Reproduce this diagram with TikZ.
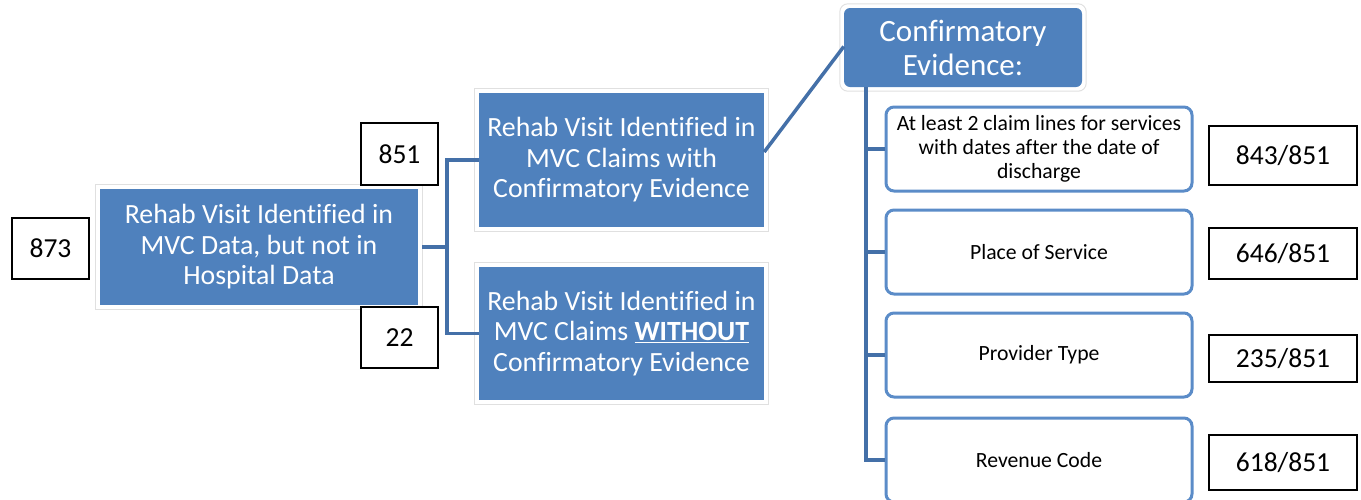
\documentclass[tikz,border=0pt]{standalone}
\usepackage{fontspec}
\setmainfont{Carlito}[Ligatures=NoCommon]
\definecolor{obl}{HTML}{4F81BD}
\definecolor{conn}{HTML}{4470A8}
\definecolor{ebd}{HTML}{5B8CC8}
\tikzset{
  bluebox/.style={draw=none, fill=obl, text=white, align=center, inner sep=0pt,
    font=\fontsize{27.8}{30.5}\selectfont},
  confbox/.style={fill=obl, text=white, align=center, inner sep=0pt, rounded corners=6pt,
    font=\fontsize{31}{34}\selectfont},
  evbox/.style={draw=ebd, line width=3pt, fill=white, rounded corners=8pt, align=center, inner sep=0pt,
    minimum width=306pt, minimum height=84pt, font=\fontsize{21.7}{24}\selectfont},
  numbox/.style={draw=black, line width=2pt, fill=white, inner sep=0pt,
    font=\fontsize{27.5}{30}\selectfont},
  connline/.style={draw=conn, line width=3.5pt},
  frameline/.style={draw=black!12, line width=1pt}
}
\begin{document}
\begin{tikzpicture}[x=1pt,y=-1pt]
\useasboundingbox (0,0) rectangle (1361,499);
% main boxes
\node[bluebox, minimum width=318pt, minimum height=116pt] (main) at (259,247)
  {Rehab Visit Identified in\\MVC Data, but not in\\Hospital Data};
\node[bluebox, minimum width=285pt, minimum height=134pt] (with) at (621.5,160)
  {Rehab Visit Identified in\\MVC Claims with\\Confirmatory Evidence};
\node[bluebox, minimum width=285pt, minimum height=133pt] (without) at (621.5,333.5)
  {Rehab Visit Identified in\\MVC Claims \underline{\textbf{WITHOUT}}\\Confirmatory Evidence};
\node[confbox, minimum width=238pt, minimum height=79pt] (conf) at (963,47.5)
  {Confirmatory\\Evidence:};
% frames
\foreach \n in {main,with,without}{
  \draw[frameline] ([shift={(-4,-4)}]\n.north west) rectangle ([shift={(4,4)}]\n.south east);
}
\draw[frameline, rounded corners=8pt] ([shift={(-4,-4)}]conf.north west) rectangle ([shift={(4,4)}]conf.south east);
% number boxes
\node[numbox, minimum width=77pt, minimum height=61pt] (n873) at (50.5,248.5) {873};
\node[numbox, minimum width=77pt, minimum height=62pt] (n851) at (399.5,154) {851};
\node[numbox, minimum width=77pt, minimum height=61pt] (n22) at (399.5,337.5) {22};
% evidence boxes
\node[evbox] (e1) at (1039,149) {At least 2 claim lines for services\\with dates after the date of\\discharge};
\node[evbox] (e2) at (1039,252) {Place of Service};
\node[evbox] (e3) at (1039,355) {Provider Type};
\node[evbox] (e4) at (1039,460) {Revenue Code};
% result boxes
\node[numbox, minimum width=148pt, minimum height=59pt] (r1) at (1283,155.5) {843/851};
\node[numbox, minimum width=148pt, minimum height=51pt] (r2) at (1283,253.5) {646/851};
\node[numbox, minimum width=148pt, minimum height=47pt] (r3) at (1283,358.5) {235/851};
\node[numbox, minimum width=148pt, minimum height=55pt] (r4) at (1283,462.5) {618/851};
% connectors
\coordinate (j) at (447,247);
\draw[connline] ([xshift=4pt]main.east) -- (j);
\draw[connline] (with.west) -| (j) |- (without.west);
\draw[connline] ([yshift=8pt]with.east) -- ([yshift=1pt]conf.west);
\coordinate (vt) at (866,87);
\draw[connline] (vt) |- (e4.west);
\draw[connline] (e1.west -| vt) -- (e1.west);
\draw[connline] (e2.west -| vt) -- (e2.west);
\draw[connline] (e3.west -| vt) -- (e3.west);
\end{tikzpicture}
\end{document}
